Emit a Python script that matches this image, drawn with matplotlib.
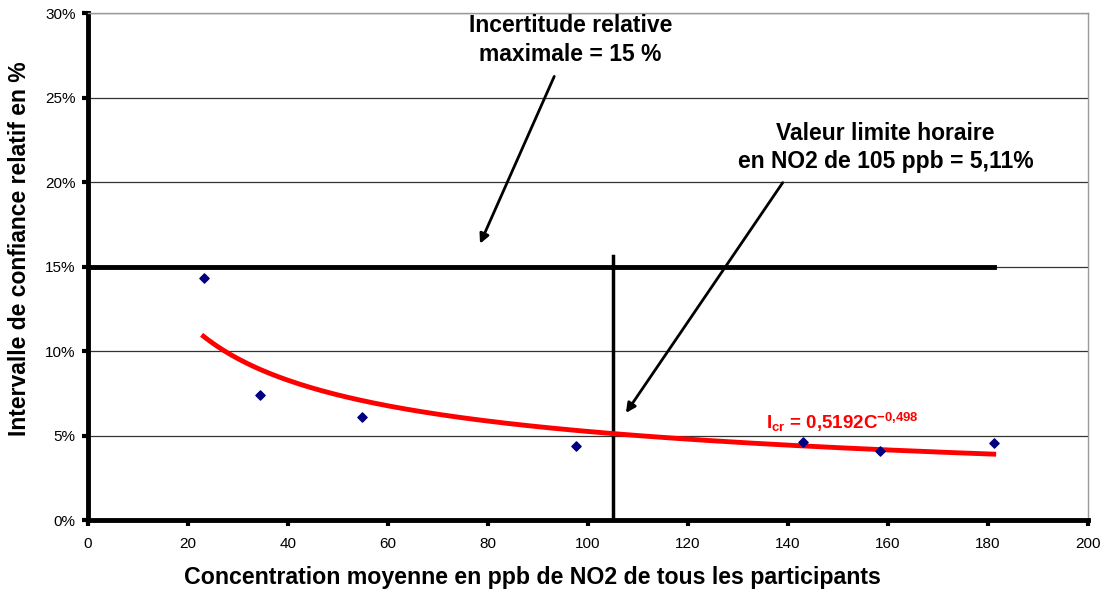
import numpy as np
import matplotlib.pyplot as plt
from matplotlib.ticker import PercentFormatter

# données
conc = [23.1, 34.5, 54.9, 97.6, 143.0, 158.5, 181.2]        # ppb
ic_rel = [14.3, 7.4, 6.1, 4.35, 4.6, 4.1, 4.57]             # %

# courbe de tendance (puissance) affichée sur le graphique
coef_a = 0.5192
coef_b = -0.498
c_min, c_max = 23.1, 181.2

seuil = 15.0          # incertitude relative maximale, %
vlh = 105             # valeur limite horaire, ppb
xticks = [0, 20, 40, 60, 80, 100, 120, 140, 160, 180, 200]
yticks = [0, 5, 10, 15, 20, 25, 30]

plt.rcParams['font.family'] = ['Liberation Sans', 'DejaVu Sans']
plt.rcParams['mathtext.fontset'] = 'custom'
plt.rcParams['mathtext.rm'] = 'Liberation Sans'
plt.rcParams['mathtext.bf'] = 'Liberation Sans:bold'
plt.rcParams['mathtext.it'] = 'Liberation Sans:italic'

fig = plt.figure(figsize=(11.02, 5.92), dpi=100)
ax = fig.add_axes([0.0799, 0.1216, 0.9071, 0.8564])

cc = np.linspace(c_min, c_max, 200)
ax.plot(cc, coef_a * cc ** coef_b * 100, color='#FF0000', lw=3.5, zorder=3)
ax.scatter(conc, ic_rel, marker='D', s=22, color='#000080', zorder=4)

ax.plot([0, c_max], [seuil, seuil], color='black', lw=3.5, zorder=2)
ax.plot([vlh, vlh], [0, 15.6], color='black', lw=2.5, zorder=2)

ax.set_xlim(0, 200)
ax.set_ylim(0, 30)
ax.set_xticks(xticks)
ax.set_yticks(yticks)
ax.yaxis.set_major_formatter(PercentFormatter(decimals=0))
ax.grid(axis='y', color='#333333', lw=0.9)
ax.set_axisbelow(True)
for s in ['left', 'bottom']:
    ax.spines[s].set_linewidth(3.5)
for s in ['top', 'right']:
    ax.spines[s].set_color('#999999')
    ax.spines[s].set_linewidth(1)
ax.tick_params(direction='out', length=4, width=3, labelsize=11, pad=5)
ax.tick_params(axis='x', pad=8)

ax.set_xlabel('Concentration moyenne en ppb de NO2 de tous les participants',
              fontsize=16.7, fontweight='bold')
ax.xaxis.set_label_coords(0.445, -0.091)
ax.set_ylabel('Intervalle de confiance relatif en %', fontsize=16.5, fontweight='bold')
ax.yaxis.set_label_coords(-0.057, 0.536)

ax.text(96.5, 28.4, 'Incertitude relative\nmaximale = 15 %', ha='center', va='center',
        fontsize=16.5, fontweight='bold', linespacing=1.3)
ax.annotate('', xy=(78.2, 16.2), xytext=(93.5, 26.4),
            arrowprops=dict(arrowstyle='-|>', color='black', lw=2, mutation_scale=14))

ax.text(159.6, 22.05, 'Valeur limite horaire\nen NO2 de 105 ppb = 5,11%', ha='center',
        va='center', fontsize=16.5, fontweight='bold', linespacing=1.3)
ax.annotate('', xy=(107.3, 6.2), xytext=(139.3, 20.1),
            arrowprops=dict(arrowstyle='-|>', color='black', lw=2, mutation_scale=14))

ax.text(151, 5.4, r'$\mathbf{I_{cr}}$ = 0,5192C$^{\mathbf{-0{,}498}}$', color='#FF0000',
        ha='center', va='baseline', fontsize=13.5, fontweight='bold')

fig.savefig('out.png', dpi=100)
